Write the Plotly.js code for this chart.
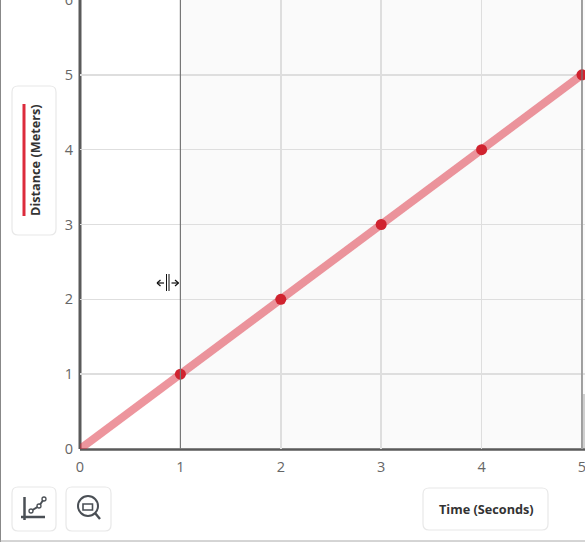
<!DOCTYPE html>
<html><head><meta charset="utf-8">
<script src="https://cdn.plot.ly/plotly-3.0.1.min.js"></script>
<style>html,body{margin:0;padding:0;background:#fff;overflow:hidden}</style>
</head><body><div id="chart" style="width:585px;height:542px"></div>
<script>
const timeSeconds=[0,1,2,3,4,5];
const distanceMeters=[0,1,2,3,4,5];
const pointTimes=[1,2,3,4,5];
const pointDistances=[1,2,3,4,5];
const xTicks=[0,1,2,3,4,5];
const yTicks=[0,1,2,3,4,5,6];
const xLabel='Time (Seconds)';
const yLabel='Distance (Meters)';

const L=80,R=585,T=0,B=449,W=585,H=542;
const px=x=>(x-L)/(R-L), py=y=>(B-y)/(B-T);
const P=(x,y)=>px(x)+' '+py(y);
function rr(x0,y0,x1,y1,r){
  return 'M'+P(x0+r,y0)+'L'+P(x1-r,y0)+'Q'+P(x1,y0)+' '+P(x1,y0+r)+'L'+P(x1,y1-r)+'Q'+P(x1,y1)+' '+P(x1-r,y1)+'L'+P(x0+r,y1)+'Q'+P(x0,y1)+' '+P(x0,y1-r)+'L'+P(x0,y0+r)+'Q'+P(x0,y0)+' '+P(x0+r,y0)+'Z';
}
const box=(x0,y0,x1,y1)=>({type:'path',xref:'paper',yref:'paper',path:rr(x0,y0,x1,y1,6),fillcolor:'#fff',line:{color:'#e8e8e8',width:1.2}});
const seg=(x0,y0,x1,y1,color,width)=>({type:'line',xref:'paper',yref:'paper',x0:px(x0),y0:py(y0),x1:px(x1),y1:py(y1),line:{color,width}});
const circ=(cx,cy,r,color,width,fill)=>({type:'circle',xref:'paper',yref:'paper',x0:px(cx-r),x1:px(cx+r),y0:py(cy+r),y1:py(cy-r),line:{color,width},fillcolor:fill||'rgba(0,0,0,0)'});
const dark='#4a4f55';

const shapes=[
  {type:'rect',xref:'x',yref:'paper',x0:1,x1:5.03,y0:0,y1:1,fillcolor:'#fafafa',line:{width:0},layer:'below'},
  {type:'line',xref:'x',yref:'paper',x0:1,x1:1,y0:0,y1:1,line:{color:'#777',width:1.2},layer:'above'},
  {type:'line',xref:'x',yref:'paper',x0:5,x1:5,y0:0,y1:1,line:{color:'#777',width:1.2},layer:'above'},
  {type:'line',xref:'paper',yref:'y',x0:0,x1:0,y0:-0.02,y1:6,line:{color:'#5a5a5a',width:3},layer:'between'},
  {type:'line',xref:'x',yref:'paper',x0:0,x1:5.03,y0:-0.001,y1:-0.001,line:{color:'#5a5a5a',width:2.6},layer:'between'},
  seg(584,394,584,448,'#cfcfcf',2),
  box(12,86,56,235),
  seg(24,104,24,216,'#dc2b3c',3),
  box(12,487,56,531),
  seg(24.5,497,24.5,520,dark,2.5),
  seg(21,517,45,517,dark,2.5),
  seg(31,511,39,506,dark,2),
  seg(39,506,44,499,dark,2),
  circ(31,511,2,dark,1.3,'#fff'),circ(39,506,2,dark,1.3,'#fff'),circ(44,499,2,dark,1.3,'#fff'),
  box(66,487,111,531),
  circ(88,506,10,dark,2),
  {type:'rect',xref:'paper',yref:'paper',x0:px(83),x1:px(92.5),y0:py(510),y1:py(504),line:{color:dark,width:1.6},fillcolor:'rgba(0,0,0,0)'},
  seg(95,513,100,519,dark,2.4),
  box(423,488,548,530),
  seg(0.5,0,0.5,542,'#888',1),
  seg(0,541,585,541,'#aaa',1),
  seg(166.5,274,166.5,291,'#111',1),
  seg(169,274,169,291,'#111',1),
  seg(157,283,164,283,'#111',1.2),
  seg(171.5,283,178.5,283,'#111',1.2),
  seg(157,283,160.5,280,'#111',1.2),seg(157,283,160.5,286,'#111',1.2),
  seg(178.5,283,175,280,'#111',1.2),seg(178.5,283,175,286,'#111',1.2)
];

const font={family:'"Open Sans", sans-serif'};
const annotations=[
  {xref:'paper',yref:'paper',x:px(35),y:py(160),text:yLabel,textangle:-90,showarrow:false,font:{...font,size:12.7,color:'#333',weight:700},xanchor:'center',yanchor:'middle'},
  {xref:'paper',yref:'paper',x:px(486),y:py(509),text:xLabel,showarrow:false,font:{...font,size:12.7,color:'#333',weight:700},xanchor:'center',yanchor:'middle'}
];

const axis={showline:false,gridcolor:'#dedede',gridwidth:1.6,zeroline:false,ticks:'',
  tickfont:{...font,size:14.5,color:'#666'},tickmode:'array',fixedrange:true,ticklabeloverflow:'allow'};

Plotly.newPlot('chart',[
  {x:timeSeconds,y:distanceMeters,mode:'lines',line:{color:'rgba(220,43,60,0.5)',width:8},hoverinfo:'skip',cliponaxis:false},
  {x:pointTimes,y:pointDistances,mode:'markers',marker:{color:'#d0232f',size:11},hoverinfo:'skip',cliponaxis:false}
],{
  width:W,height:H,autosize:false,showlegend:false,
  margin:{l:L,r:W-R,t:T,b:H-B,pad:0},
  paper_bgcolor:'#fff',plot_bgcolor:'#fff',
  xaxis:{...axis,range:[0,5.03],tickvals:xTicks,ticktext:xTicks.map(String),ticklabelstandoff:7},
  yaxis:{...axis,range:[0,6],tickvals:yTicks,ticktext:yTicks.map(String),ticklabelstandoff:6},
  shapes,annotations
},{displayModeBar:false,staticPlot:true});
</script></body></html>
